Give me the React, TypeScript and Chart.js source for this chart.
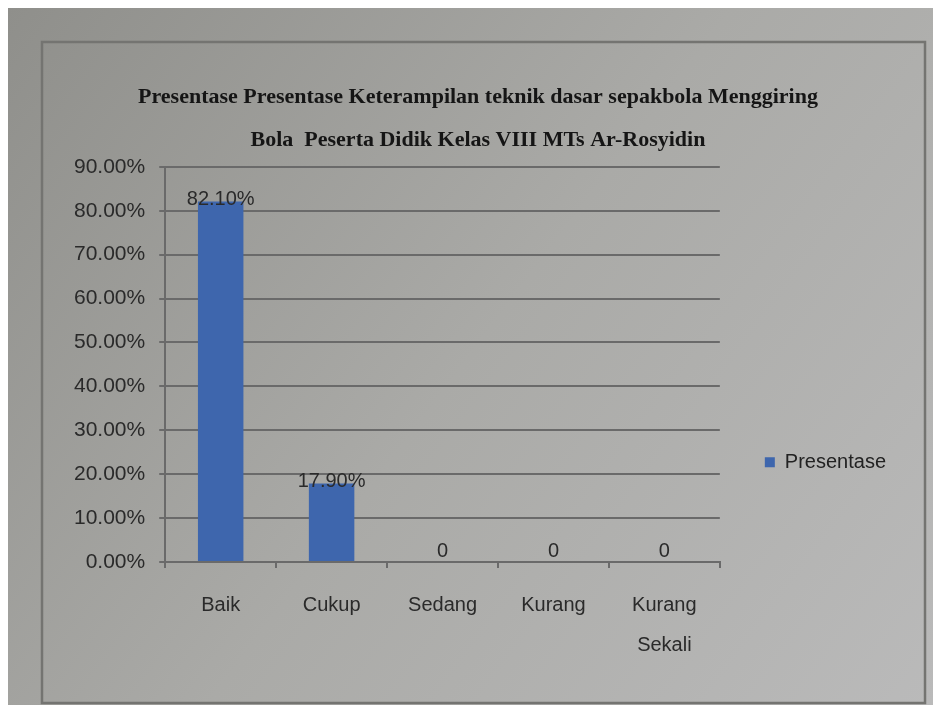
import React, { useEffect, useRef } from "react";
import { Chart, registerables } from "chart.js";

Chart.register(...registerables);

const categories: (string | string[])[] = ["Baik", "Cukup", "Sedang", "Kurang", ["Kurang", "Sekali"]];
const presentase: number[] = [82.1, 17.9, 0, 0, 0];
const titleLines: string[] = [
  "Presentase Presentase Keterampilan teknik dasar sepakbola Menggiring",
  "Bola  Peserta Didik Kelas VIII MTs Ar-Rosyidin",
];
const seriesName = "Presentase";

const SANS = "'Liberation Sans', Arial, sans-serif";
const SERIF = "'Liberation Serif', 'Times New Roman', serif";

const backgroundPlugin = {
  id: "photoBackground",
  beforeDraw(chart: any) {
    const { ctx, width, height } = chart;
    ctx.save();
    const g = ctx.createLinearGradient(0, 0, width, height);
    g.addColorStop(0, "#8f8f8b");
    g.addColorStop(0.5, "#aaaaa7");
    g.addColorStop(1, "#bababa");
    ctx.fillStyle = g;
    ctx.fillRect(0, 0, width, height);
    ctx.strokeStyle = "#747471";
    ctx.lineWidth = 2.5;
    ctx.strokeRect(34, 34, 883, 661);
    ctx.restore();
  },
};

const valueLabelPlugin = {
  id: "valueLabels",
  afterDatasetsDraw(chart: any) {
    const { ctx } = chart;
    ctx.save();
    ctx.font = `20px ${SANS}`;
    ctx.fillStyle = "#2a2a2a";
    ctx.textAlign = "center";
    ctx.textBaseline = "middle";
    chart.data.datasets.forEach((ds: any, di: number) => {
      const meta = chart.getDatasetMeta(di);
      meta.data.forEach((bar: any, i: number) => {
        const v = ds.data[i] as number;
        const text = v === 0 ? "0" : v.toFixed(2) + "%";
        ctx.fillText(text, bar.x, bar.y - (v === 0 ? 11 : 2));
      });
    });
    ctx.restore();
  },
};

export default function App() {
  const ref = useRef<HTMLCanvasElement | null>(null);

  useEffect(() => {
    if (!ref.current) return;
    const chart = new Chart(ref.current, {
      type: "bar",
      data: {
        labels: categories,
        datasets: [
          {
            label: seriesName,
            data: presentase,
            backgroundColor: "#3e66ad",
            borderWidth: 0,
            categoryPercentage: 1,
            barPercentage: 0.41,
          },
        ],
      },
      plugins: [backgroundPlugin, valueLabelPlugin],
      options: {
        responsive: false,
        animation: false,
        devicePixelRatio: 1,
        layout: { padding: { left: 52, right: 37, top: 0, bottom: 23 } },
        plugins: {
          title: {
            display: true,
            text: titleLines,
            color: "#151515",
            font: { family: SERIF, size: 22, weight: "bold", lineHeight: 1.95 },
            padding: { top: 68, bottom: 5 },
          },
          legend: {
            display: true,
            position: "right",
            align: "center",
            title: { display: true, text: " ", padding: { top: 220, bottom: 0 }, font: { size: 12 } },
            labels: {
              boxWidth: 10,
              boxHeight: 10,
              padding: 45,
              color: "#222",
              font: { family: SANS, size: 20 },
            },
          },
          tooltip: { enabled: false },
        },
        scales: {
          x: {
            grid: {
              display: true,
              drawOnChartArea: false,
              offset: true,
              color: "#6a6a6a",
              lineWidth: 2,
              tickLength: 6,
            },
            border: { display: true, color: "#6a6a6a", width: 2 },
            ticks: {
              color: "#2a2a2a",
              padding: 17,
              maxRotation: 0,
              font: { family: SANS, size: 20, lineHeight: 2 },
            },
          },
          y: {
            min: 0,
            max: 90,
            ticks: {
              stepSize: 10,
              color: "#2a2a2a",
              padding: 14,
              font: { family: SANS, size: 21 },
              callback: (v: any) => Number(v).toFixed(2) + "%",
            },
            grid: { color: "#6a6a6a", lineWidth: 2, tickLength: 6 },
            border: { display: true, color: "#6a6a6a", width: 2 },
          },
        },
      },
    });
    return () => chart.destroy();
  }, []);

  return <canvas ref={ref} width={925} height={697} style={{ display: "block" }} />;
}
